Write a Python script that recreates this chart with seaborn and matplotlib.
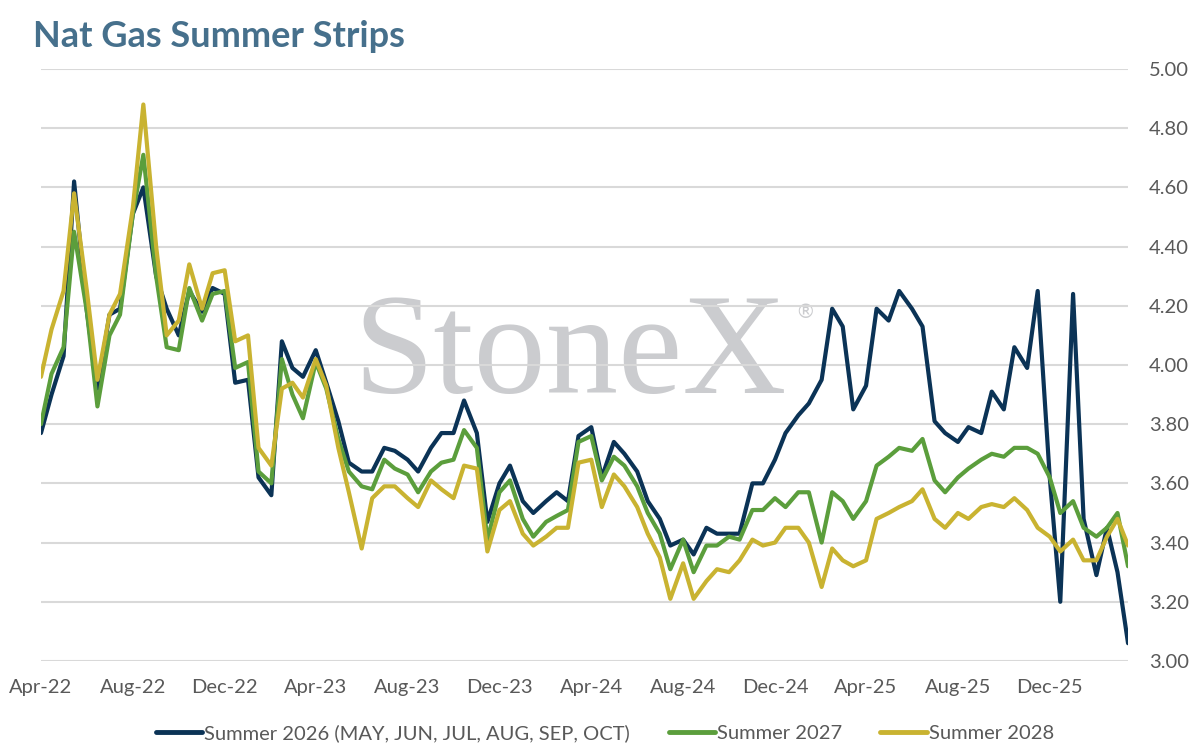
import pandas as pd
import numpy as np
import seaborn as sns
import matplotlib.pyplot as plt
import matplotlib.dates as mdates
from matplotlib.ticker import MultipleLocator, FormatStrFormatter

# semi-monthly readings, Apr-22 .. mid Mar-26
dates = pd.date_range("2022-04-01", periods=96, freq="SMS")

summer_2026 = [
    3.77, 3.90, 4.03, 4.62, 4.18, 3.92, 4.17, 4.19, 4.51, 4.60,
    4.30, 4.19, 4.10, 4.25, 4.18, 4.26, 4.24, 3.94, 3.95, 3.62,
    3.56, 4.08, 3.99, 3.96, 4.05, 3.94, 3.81, 3.67, 3.64, 3.64,
    3.72, 3.71, 3.68, 3.64, 3.72, 3.77, 3.77, 3.88, 3.77, 3.47,
    3.60, 3.66, 3.54, 3.50, 3.54, 3.57, 3.54, 3.76, 3.79, 3.62,
    3.74, 3.70, 3.64, 3.54, 3.48, 3.39, 3.41, 3.36, 3.45, 3.43,
    3.43, 3.43, 3.60, 3.60, 3.68, 3.77, 3.83, 3.87, 3.95, 4.19,
    4.13, 3.85, 3.93, 4.19, 4.15, 4.25, 4.19, 4.13, 3.81, 3.77,
    3.74, 3.79, 3.77, 3.91, 3.85, 4.06, 3.99, 4.25, 3.62, 3.20,
    4.24, 3.48, 3.29, 3.45, 3.30, 3.06,
]
summer_2027 = [
    3.80, 3.97, 4.06, 4.45, 4.18, 3.86, 4.10, 4.17, 4.51, 4.71,
    4.30, 4.06, 4.05, 4.26, 4.15, 4.24, 4.25, 3.99, 4.01, 3.64,
    3.60, 4.02, 3.90, 3.82, 4.01, 3.92, 3.75, 3.64, 3.59, 3.58,
    3.68, 3.65, 3.63, 3.57, 3.64, 3.67, 3.68, 3.78, 3.72, 3.41,
    3.57, 3.61, 3.48, 3.42, 3.47, 3.49, 3.51, 3.74, 3.76, 3.61,
    3.69, 3.66, 3.59, 3.50, 3.43, 3.31, 3.41, 3.30, 3.39, 3.39,
    3.42, 3.41, 3.51, 3.51, 3.55, 3.52, 3.57, 3.57, 3.40, 3.57,
    3.54, 3.48, 3.54, 3.66, 3.69, 3.72, 3.71, 3.75, 3.61, 3.57,
    3.62, 3.65, 3.68, 3.70, 3.69, 3.72, 3.72, 3.70, 3.62, 3.50,
    3.54, 3.45, 3.42, 3.45, 3.50, 3.32,
]
summer_2028 = [
    3.96, 4.12, 4.25, 4.58, 4.25, 3.95, 4.17, 4.24, 4.53, 4.88,
    4.40, 4.10, 4.15, 4.34, 4.19, 4.31, 4.32, 4.08, 4.10, 3.72,
    3.66, 3.92, 3.94, 3.89, 4.02, 3.93, 3.72, 3.57, 3.38, 3.55,
    3.59, 3.59, 3.55, 3.52, 3.61, 3.58, 3.55, 3.66, 3.65, 3.37,
    3.51, 3.54, 3.43, 3.39, 3.42, 3.45, 3.45, 3.67, 3.68, 3.52,
    3.63, 3.59, 3.52, 3.43, 3.35, 3.21, 3.33, 3.21, 3.27, 3.31,
    3.30, 3.34, 3.41, 3.39, 3.40, 3.45, 3.45, 3.40, 3.25, 3.38,
    3.34, 3.32, 3.34, 3.48, 3.50, 3.52, 3.54, 3.58, 3.48, 3.45,
    3.50, 3.48, 3.52, 3.53, 3.52, 3.55, 3.51, 3.45, 3.42, 3.37,
    3.41, 3.34, 3.34, 3.42, 3.48, 3.39,
]

series_names = ["Summer 2026 (MAY, JUN, JUL, AUG, SEP, OCT)", "Summer 2027", "Summer 2028"]
colors = ["#0b3356", "#5b9e3c", "#c9b331"]

df = pd.concat([
    pd.DataFrame({"date": dates, "price": vals, "strip": name})
    for name, vals in zip(series_names, [summer_2026, summer_2027, summer_2028])
])

sns.set_style("white")
plt.rcParams["font.family"] = ["Lato", "DejaVu Sans"]

fig = plt.figure(figsize=(11.98, 7.53), dpi=100)
ax = fig.add_axes([0.0342, 0.1222, 0.9074, 0.7862])

# watermark
ax.text(0.487, 0.453, "StoneX", transform=ax.transAxes, ha="center", va="baseline",
        fontsize=104, color="#cbcccf", family="Liberation Serif", zorder=0)
ax.text(0.703, 0.588, "®", transform=ax.transAxes, ha="center", va="center",
        fontsize=14, color="#cbcccf", family="DejaVu Sans", zorder=0)

sns.lineplot(data=df, x="date", y="price", hue="strip", palette=colors,
             linewidth=3.0, ax=ax, zorder=3)

ax.set_xlim(dates[0], dates[-1])
ax.set_ylim(3.0, 5.0)
ax.yaxis.set_major_locator(MultipleLocator(0.2))
ax.yaxis.set_major_formatter(FormatStrFormatter("%.2f"))
ax.yaxis.tick_right()
ax.xaxis.set_major_locator(mdates.MonthLocator(bymonth=[4, 8, 12]))
ax.xaxis.set_major_formatter(mdates.DateFormatter("%b-%y"))
ax.grid(axis="y", color="#d9d9d9", linewidth=1.5, zorder=1)
ax.grid(axis="x", visible=False)
ax.set_axisbelow(True)
for s in ax.spines.values():
    s.set_visible(False)
ax.tick_params(axis="y", length=0, pad=15, labelsize=14.5, labelcolor="#595959")
ax.tick_params(axis="x", length=0, pad=13, labelsize=14.5, labelcolor="#595959")
ax.set_xlabel("")
ax.set_ylabel("")

handles, labels = ax.get_legend_handles_labels()
for h in handles:
    h.set_linewidth(3.5)
ax.get_legend().remove()
fig.legend(handles, labels, loc="center", bbox_to_anchor=(0.505, 0.026), ncol=3,
           frameon=False, fontsize=14.5, handlelength=2.3, handletextpad=0.1,
           columnspacing=1.9, labelcolor="#595959")

fig.text(0.0275, 0.9376, "Nat Gas Summer Strips", ha="left", va="baseline",
         fontsize=26, fontweight="bold", color="#46708c")

fig.savefig("out.png", dpi=100)
plt.close()
